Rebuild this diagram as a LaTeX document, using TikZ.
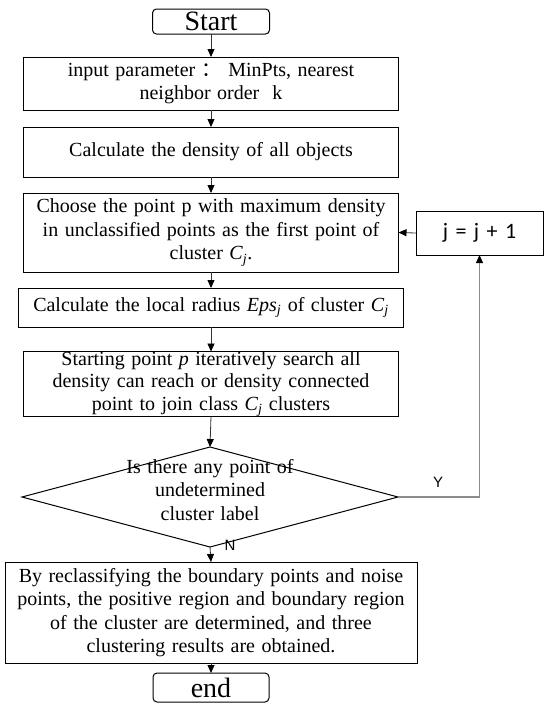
\documentclass[tikz,border=0pt]{standalone}
\usepackage{fontspec}
\setmainfont[WordSpace=1.3]{Liberation Serif}
\newfontfamily\cjk{Noto Sans CJK SC}
\newfontfamily\jfont[WordSpace=1.5]{Carlito}
\newfontfamily\lsans{Liberation Sans}
\usetikzlibrary{shapes.geometric,arrows.meta}
\newcommand{\Cj}{\textit{C}\textsubscript{\textit{j}}}
\newcommand{\Epsj}{\textit{Eps}\textsubscript{\textit{j}}}
\tikzset{
  box/.style={draw, line width=1pt, inner sep=0pt, outer sep=0pt, align=center,
    font=\fontsize{20}{23.5}\selectfont},
  term/.style={box, rounded corners=4pt, font=\fontsize{28}{30}\selectfont},
  conn/.style={draw=black!80, line width=0.8pt, -{Triangle[length=8pt,width=7pt,color=black]}},
  loopline/.style={draw=black!45, line width=1.1pt, -{Triangle[length=8pt,width=7pt,color=black]}},
  lab/.style={font=\lsans\fontsize{15}{17}\selectfont, inner sep=0pt}
}
\begin{document}
\begin{tikzpicture}[x=1pt,y=-1pt]
\useasboundingbox[fill=white] (0,0) rectangle (550,712);

\node[term, minimum width=117pt, minimum height=25pt] (start) at (211,21.5) {Start};

\node[box, minimum width=375pt, minimum height=53pt] (b1) at (211,83.5)
  {input parameter {\cjk ：} MinPts, nearest\\neighbor order\ \ k};

\node[box, minimum width=375pt, minimum height=50pt] (b2) at (211,152)
  {Calculate the density of all objects};

\node[box, minimum width=375pt, minimum height=79pt] (b3) at (211,232.5)
  {Choose the point p with maximum density\\in unclassified points as the first point of\\cluster \Cj.};

\node[box, minimum width=385pt, minimum height=39pt] (b4) at (211,307.5)
  {Calculate the local radius \Epsj{} of cluster \Cj};

\node[box, minimum width=375pt, minimum height=64pt, font=\fontsize{20}{22.5}\selectfont] (b5) at (211,384)
  {Starting point \textit{p} iteratively search all\\density can reach or density connected\\point to join class \Cj{} clusters};

\node[diamond, draw, line width=1pt, aspect=3.76, minimum width=376pt, minimum height=100pt, inner sep=0pt, outer sep=0pt,
  font=\fontsize{20}{23.5}\selectfont] (dia) at (210,497)
  {\smash{\begin{tabular}{@{}c@{}}Is there any point of\\undetermined\\cluster label\end{tabular}}};

\node[box, minimum width=412pt, minimum height=101pt] (b6) at (211,612.5)
  {By reclassifying the boundary points and noise\\points, the positive region and boundary region\\of the cluster are determined, and three\\clustering results are obtained.};

\node[term, minimum width=116pt, minimum height=29pt] (end) at (211,687.5) {end};

\node[box, minimum width=127pt, minimum height=44pt, font=\jfont\fontsize{22}{24}\selectfont] (jb) at (479.5,233) {j = j + 1};

\node[lab] (ylab) at (438,482) {Y};
\node[lab] (nlab) at (230,545) {N};

\draw[conn] (start.south) -- (b1.north);
\draw[conn] (b1.south) -- (b2.north);
\draw[conn] (b2.south) -- (b3.north);
\draw[conn] (b3.south) -- (b4.north);
\draw[conn] (b4.south) -- (b5.north);
\draw[conn] (b5.south) -- (dia.north);
\draw[conn] (dia.south) -- (b6.north);
\draw[conn] (b6.south) -- (end.north);
\draw[loopline] (dia.east) -| (jb.south);
\draw[conn] (jb.west) -- (b3.east);
\end{tikzpicture}
\end{document}
